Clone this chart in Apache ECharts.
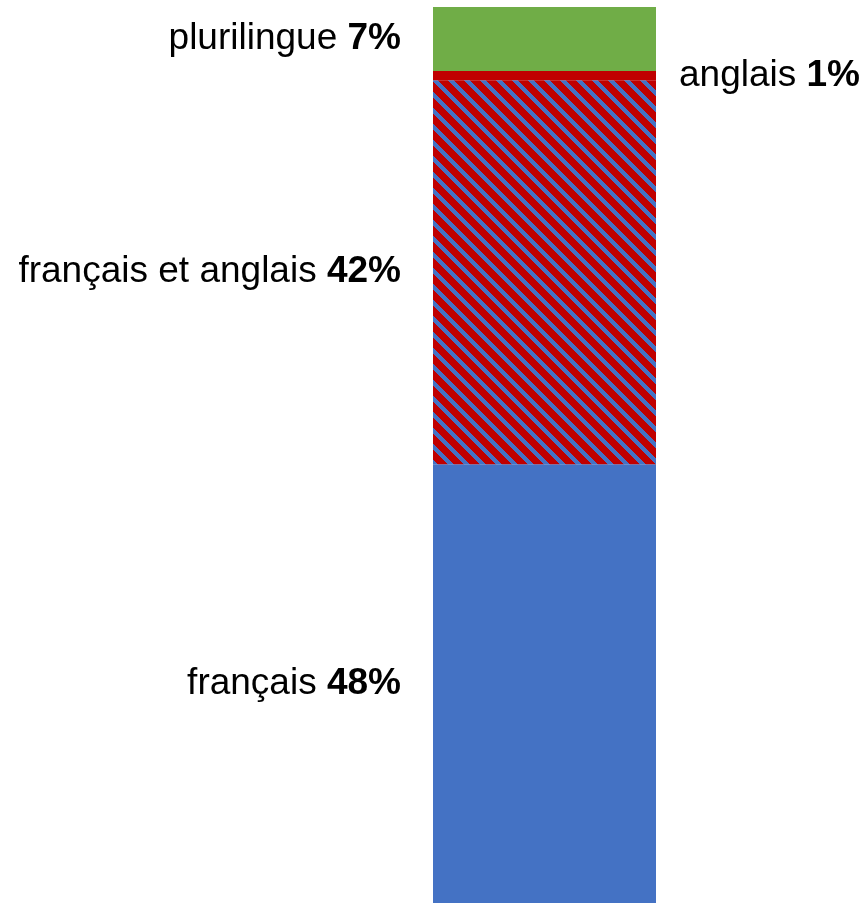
<!DOCTYPE html>
<html>
<head>
<meta charset="utf-8">
<script src="https://cdn.jsdelivr.net/npm/echarts@6/dist/echarts.min.js"></script>
<style>
  html, body { margin: 0; padding: 0; background: #ffffff; }
  #chart { width: 863px; height: 903px; }
</style>
</head>
<body>
<div id="chart"></div>
<script>
// Language of the documents, stacked from the bottom up
const categories = ['documents'];
const segmentNames = ['français', 'français et anglais', 'anglais', 'plurilingue'];
const segmentValues = [48, 42, 1, 7];
const segmentColors = ['#4472C4', 'hatch', '#C00000', '#70AD47'];
const labelSides = ['left', 'left', 'right', 'left'];

// Red tile with blue diagonal stripes for the bilingual segment
function hatchTile() {
  const size = 16;
  const c = document.createElement('canvas');
  c.width = size; c.height = size;
  const ctx = c.getContext('2d');
  const img = ctx.createImageData(size, size);
  for (let y = 0; y < size; y++) {
    for (let x = 0; x < size; x++) {
      const d = ((x - y) % size + size) % size;
      const blue = d < 6;
      const i = (y * size + x) * 4;
      img.data[i] = blue ? 0x44 : 0xC0;
      img.data[i + 1] = blue ? 0x72 : 0x00;
      img.data[i + 2] = blue ? 0xC4 : 0x00;
      img.data[i + 3] = 255;
    }
  }
  ctx.putImageData(img, 0, 0);
  return c;
}

const total = segmentValues.reduce((a, b) => a + b, 0);
const tile = hatchTile();

const series = segmentNames.map((name, k) => ({
  name: name,
  type: 'bar',
  stack: 'all',
  barWidth: '100%',
  data: [segmentValues[k]],
  itemStyle: {
    color: segmentColors[k] === 'hatch' ? { image: tile, repeat: 'repeat' } : segmentColors[k]
  },
  label: {
    show: true,
    position: labelSides[k],
    distance: labelSides[k] === 'left' ? 32 : 23,
    formatter: function (p) { return '{n|' + p.seriesName + ' }{v|' + p.value + '%}'; },
    rich: {
      n: { fontFamily: 'Liberation Sans, Arial, sans-serif', fontSize: 37, color: '#000' },
      v: { fontFamily: 'Liberation Sans, Arial, sans-serif', fontSize: 37, fontWeight: 'bold', color: '#000' }
    }
  },
  emphasis: { disabled: true }
}));

const chart = echarts.init(document.getElementById('chart'), null, { renderer: 'canvas' });
chart.setOption({
  animation: false,
  grid: { left: 433, right: 207, top: 7, bottom: 0 },
  xAxis: { type: 'category', data: categories, show: false },
  yAxis: { type: 'value', min: 0, max: total, show: false },
  series: series
});
</script>
</body>
</html>
